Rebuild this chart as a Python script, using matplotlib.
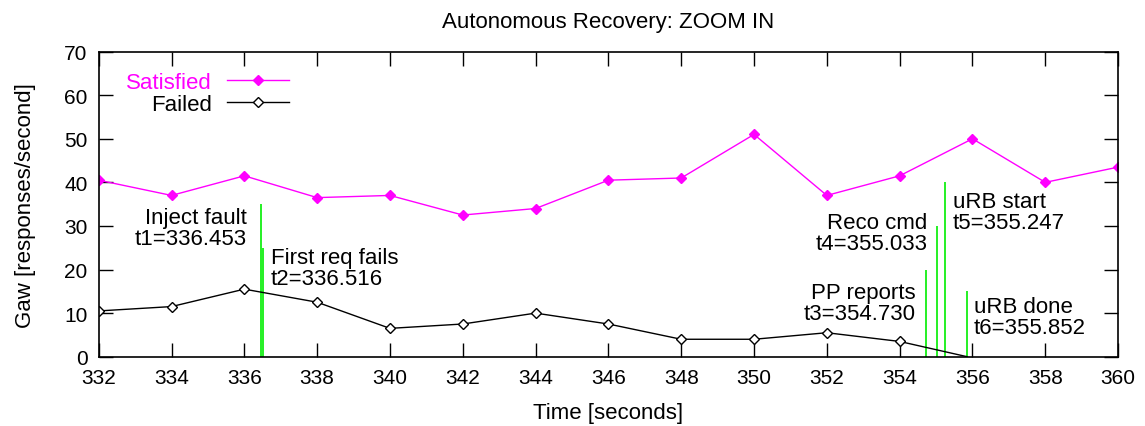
import numpy as np
import matplotlib.pyplot as plt

plt.rcParams["font.family"] = ["Liberation Sans", "DejaVu Sans"]

# ---------------------------------------------------------------------------
# Data
# ---------------------------------------------------------------------------

time_s = [332, 334, 336, 338, 340, 342, 344, 346, 348, 350, 352, 354, 356, 358, 360]
satisfied = [40.5, 37.0, 41.5, 36.5, 37.0, 32.5, 34.0, 40.5, 41.0, 51.0,
             37.0, 41.5, 50.0, 40.0, 43.5]

failed_t = [332, 334, 336, 338, 340, 342, 344, 346, 348, 350, 352, 354, 355.852]
failed = [10.5, 11.5, 15.5, 12.5, 6.5, 7.5, 10.0, 7.5, 4.0, 4.0, 5.5, 3.5, 0.0]

event_t = [336.453, 336.516, 354.730, 355.033, 355.247, 355.852]
event_h = [35, 25, 20, 30, 40, 15]
event_name = ["Inject fault", "First req fails", "PP reports",
              "Reco cmd", "uRB start", "uRB done"]

# label anchor (x, y, horizontal alignment) for each event
event_lbl = [(336.08, 29.5, "right"), (336.72, 20.3, "left"),
             (354.45, 12.3, "right"), (354.77, 28.4, "right"),
             (355.46, 33.3, "left"), (356.04, 9.1, "left")]

# ---------------------------------------------------------------------------
# Figure
# ---------------------------------------------------------------------------

fig = plt.figure(figsize=(11.45, 4.27), dpi=100)
ax = fig.add_axes([0.0862, 0.1623, 0.8903, 0.7145])

ax.plot(time_s, satisfied, color="magenta", lw=1.0, marker="D", ms=5,
        mfc="magenta", mec="magenta", label="Satisfied")
ax.plot(failed_t, failed, color="black", lw=1.0, marker="D", ms=5,
        mfc="white", mec="black", mew=1.0, markevery=list(range(len(failed) - 1)),
        label="Failed")

for i, (t, h, name, (lx, ly, ha)) in enumerate(zip(event_t, event_h, event_name, event_lbl)):
    ax.vlines(t, 0, h, color="#00ee00", lw=1.2, zorder=1)
    ax.text(lx, ly, f"{name}\nt{i + 1}={t:.3f}", ha=ha, va="center",
            fontsize=16, linespacing=1.0)

ax.set_xlim(332, 360)
ax.set_ylim(0, 70)
ax.set_xticks(np.arange(332, 361, 2))
ax.set_yticks(np.arange(0, 71, 10))
ax.tick_params(direction="in", length=10, width=1.0, top=True, right=True,
               labelsize=15, pad=8)
for sp in ax.spines.values():
    sp.set_linewidth(1.2)

ax.set_xlabel("Time [seconds]", fontsize=16, labelpad=11)
ax.set_ylabel("Gaw [responses/second]", fontsize=16, labelpad=20)
ax.set_title("Autonomous Recovery: ZOOM IN", fontsize=16, pad=18)

leg = ax.legend(loc="center right", bbox_to_anchor=(0.187, 0.863),
                markerfirst=False, frameon=False, fontsize=16,
                handlelength=2.8, handletextpad=0.7, labelspacing=0.05,
                borderpad=0, borderaxespad=0)
leg.get_texts()[0].set_color("magenta")

fig.savefig("out.png", dpi=100)
